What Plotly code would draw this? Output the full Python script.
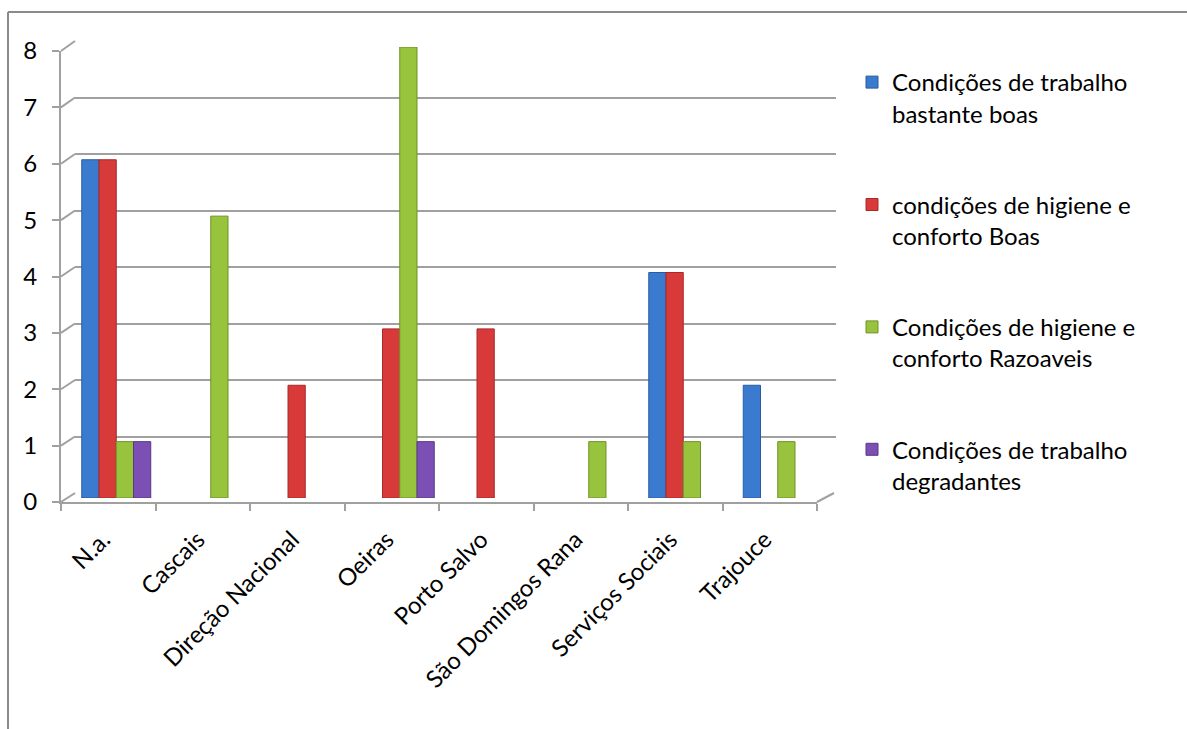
import plotly.graph_objects as go

# Data
categories = ["N.a.", "Cascais", "Direção Nacional", "Oeiras", "Porto Salvo",
              "São Domingos Rana", "Serviços Sociais", "Trajouce"]
series_names = [
    "Condições de trabalho<br>bastante boas",
    "condições de higiene e<br>conforto Boas",
    "Condições de higiene e<br>conforto Razoaveis",
    "Condições de trabalho<br>degradantes",
]
trabalho_boas = [6, 0, 0, 0, 0, 0, 4, 2]
higiene_boas = [6, 0, 2, 3, 3, 0, 4, 0]
higiene_razoaveis = [1, 5, 0, 8, 0, 1, 1, 1]
trabalho_degradantes = [1, 0, 0, 1, 0, 0, 0, 0]
series_values = [trabalho_boas, higiene_boas, higiene_razoaveis, trabalho_degradantes]
series_colors = ["#3a7bd0", "#d83a3a", "#97c43c", "#7b4fb3"]
series_edges = ["#2a5c9e", "#a82a2a", "#6f9228", "#5a3886"]
y_ticks = list(range(0, 9))

W, H = 1187, 729
FONT = "Lato"
FS = 24
GRID = "#a0a0a0"


def X(p):
    return p / W


def Y(p):
    return 1 - p / H


# pixel geometry of the pseudo-3D frame
front_left, front_right, front_y0, front_y8 = 61, 817, 502, 51
back_left, back_right, back_y0, back_y8 = 75, 836, 493, 41
bar_left, bar_right, bar_y0, bar_y8 = 69, 825, 498, 47


def front_y(v):
    return front_y0 + (front_y8 - front_y0) * v / 8


def back_y(v):
    return back_y0 + (back_y8 - back_y0) * v / 8


fig = go.Figure()

# back wall subplot (gridlines)
fig.add_trace(go.Scatter(x=[0, 1], y=[0, 0], mode="markers", marker=dict(opacity=0),
                         showlegend=False, hoverinfo="skip", xaxis="x", yaxis="y"))

# bars
for name, vals, col, edge in zip(series_names, series_values, series_colors, series_edges):
    fig.add_trace(go.Bar(
        x=categories, y=vals, name=name, xaxis="x2", yaxis="y2",
        marker=dict(color=col, line=dict(color=edge, width=[1 if v else 0 for v in vals])),
        legendgroup=name,
    ))

# front axes subplot (ticks and labels)
fig.add_trace(go.Scatter(x=categories, y=[0] * len(categories), mode="markers",
                         marker=dict(opacity=0), showlegend=False, hoverinfo="skip",
                         xaxis="x3", yaxis="y3"))

shapes = []
# depth connectors from the front axis to the back wall
for v in y_ticks:
    shapes.append(dict(type="line", xref="paper", yref="paper",
                       x0=X(front_left), y0=Y(front_y(v)), x1=X(back_left), y1=Y(back_y(v)),
                       line=dict(color=GRID, width=2)))
# right edge of the floor
shapes.append(dict(type="line", xref="paper", yref="paper",
                   x0=X(front_right), y0=Y(front_y0), x1=X(back_right - 2), y1=Y(back_y0),
                   line=dict(color=GRID, width=2)))
# chart area border (top and left)
shapes.append(dict(type="line", xref="paper", yref="paper",
                   x0=X(8), y0=Y(12), x1=1, y1=Y(12), line=dict(color="#8a8a8a", width=2)))
shapes.append(dict(type="line", xref="paper", yref="paper",
                   x0=X(8), y0=Y(12), x1=X(8), y1=0, line=dict(color="#8a8a8a", width=2)))

fig.update_layout(
    width=W, height=H,
    margin=dict(l=0, r=0, t=0, b=0, autoexpand=False),
    paper_bgcolor="white", plot_bgcolor="rgba(0,0,0,0)",
    font=dict(family=FONT, size=FS, color="#000000"),
    barmode="group", bargap=0.27, bargroupgap=0,
    shapes=shapes,
    xaxis=dict(domain=[X(back_left), X(back_right)], range=[0, 1], visible=False,
               automargin=False),
    yaxis=dict(domain=[Y(back_y0), Y(back_y8)], range=[0, 8], dtick=1, showgrid=True,
               gridcolor=GRID, gridwidth=2, zeroline=False, showticklabels=False,
               showline=False, ticks="", automargin=False),
    xaxis2=dict(domain=[X(bar_left), X(bar_right)], type="category", categoryarray=categories,
                categoryorder="array", range=[-0.5, len(categories) - 0.5],
                showticklabels=False, showgrid=False, zeroline=False, showline=False,
                ticks="", anchor="y2", automargin=False),
    yaxis2=dict(domain=[Y(bar_y0), Y(bar_y8)], range=[0, 8], showticklabels=False,
                showgrid=False, zeroline=False, showline=False, ticks="", anchor="x2",
                automargin=False),
    xaxis3=dict(domain=[X(front_left), X(front_right)], type="category",
                categoryarray=categories, categoryorder="array",
                range=[-0.5, len(categories) - 0.5], tickson="boundaries",
                ticks="outside", ticklen=7, tickcolor=GRID, tickwidth=2,
                showline=True, linecolor=GRID, linewidth=2, showgrid=False, zeroline=False,
                tickangle=-45, tickfont=dict(family=FONT, size=FS), anchor="y3",
                ticklabelstandoff=12, ticklabelshift=-5, automargin=False),
    yaxis3=dict(domain=[Y(front_y0), Y(front_y8)], range=[0, 8], tickvals=y_ticks,
                ticks="outside", ticklen=7, tickcolor=GRID, tickwidth=2,
                showline=True, linecolor=GRID, linewidth=2, showgrid=False, zeroline=False,
                tickfont=dict(family=FONT, size=FS), anchor="x3",
                ticklabelstandoff=10, automargin=False),
    legend=dict(x=X(852), y=Y(60), xanchor="left", yanchor="top", valign="top",
                font=dict(family=FONT, size=FS), tracegroupgap=57,
                bgcolor="rgba(0,0,0,0)", itemwidth=30),
)

fig.write_html("out.html")
